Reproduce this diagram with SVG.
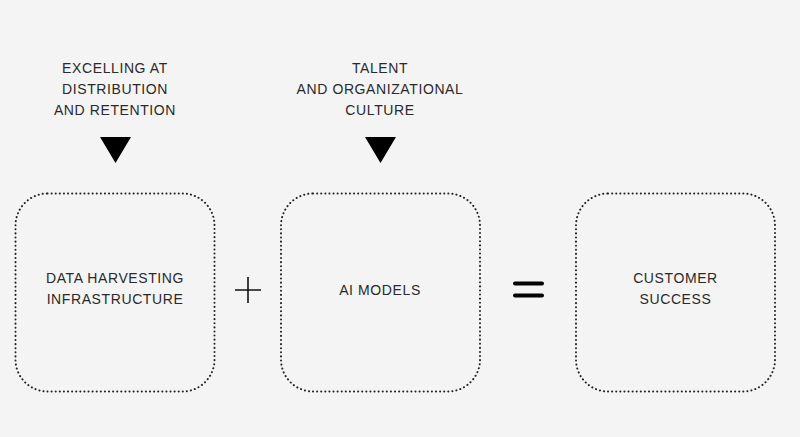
<svg xmlns="http://www.w3.org/2000/svg" width="800" height="437" viewBox="0 0 800 437">
<style>
.bg{fill:#f4f4f4}
.box{fill:none;stroke:#222;stroke-width:2;stroke-dasharray:0.1 4;stroke-linecap:round}
.t{font-family:"Liberation Sans",Arial,sans-serif;font-size:14px;fill:#2a2a2a;text-anchor:middle;letter-spacing:0.6px}
.tri{fill:#000}
</style>
<rect class="bg" x="0" y="0" width="800" height="437"/>
<g id="label-distribution">
<text class="t" x="115" y="73">EXCELLING AT</text>
<text class="t" x="115" y="94">DISTRIBUTION</text>
<text class="t" x="115" y="115">AND RETENTION</text>
</g>
<g id="label-talent">
<text class="t" x="380" y="73">TALENT</text>
<text class="t" x="380" y="94">AND ORGANIZATIONAL</text>
<text class="t" x="380" y="115">CULTURE</text>
</g>
<g id="connectors">
<polygon class="tri" points="100,137 131,137 115.5,163"/>
<polygon class="tri" points="365,137 396,137 380.5,163"/>
<path d="M235,290 H261 M248,277 V303" stroke="#111" stroke-width="1.6" fill="none"/>
<path d="M515,283.5 H542 M515,295.5 H542" stroke="#000" stroke-width="4" stroke-linecap="round" fill="none"/>
</g>
<g id="node-data">
<rect class="box" x="15.5" y="193.5" width="199" height="198" rx="32"/>
<text class="t" x="115" y="283">DATA HARVESTING</text>
<text class="t" x="115" y="304">INFRASTRUCTURE</text>
</g>
<g id="node-ai">
<rect class="box" x="281" y="193.5" width="199" height="198" rx="32"/>
<text class="t" x="380" y="295">AI MODELS</text>
</g>
<g id="node-customer">
<rect class="box" x="576" y="193.5" width="199" height="198" rx="32"/>
<text class="t" x="675.5" y="283">CUSTOMER</text>
<text class="t" x="675.5" y="304">SUCCESS</text>
</g>
</svg>
